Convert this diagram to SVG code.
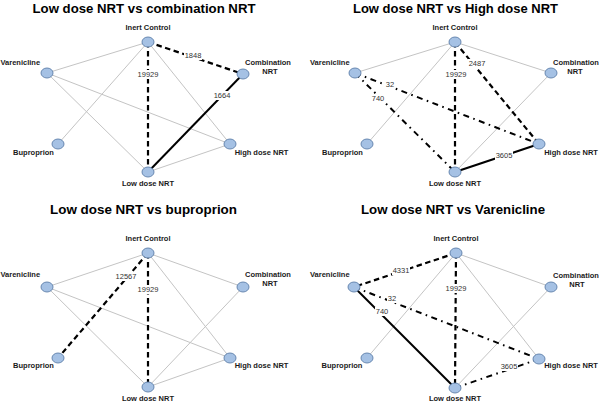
<svg xmlns="http://www.w3.org/2000/svg" width="600" height="404" viewBox="0 0 600 404">
<style>
.title{font-family:"Liberation Sans",Arial,sans-serif;font-weight:bold;font-size:13.5px;fill:#000;text-anchor:middle}
.nl{font-family:"Liberation Sans",Arial,sans-serif;font-weight:bold;font-size:7.5px;fill:#1a1a1a}
.c{text-anchor:middle}
.el{font-family:"Liberation Sans",Arial,sans-serif;font-size:7.5px;fill:#333;text-anchor:middle}
.bg{fill:#fff}
.gray{stroke:#c4c4c4;stroke-width:1;fill:none}
.dash{stroke:#000;stroke-width:2.2;stroke-dasharray:5.5 3.5;fill:none}
.dd{stroke:#000;stroke-width:2;stroke-dasharray:6 4.5 1.6 4.5;fill:none}
.solid{stroke:#000;stroke-width:2;fill:none}
.node{fill:#a5c1e4;stroke:#5d7fa9;stroke-width:0.9}
</style>
<rect width="600" height="404" fill="#fff"/>
<g id="titles">
<text class="title" x="144" y="13" textLength="223" lengthAdjust="spacingAndGlyphs">Low dose NRT vs combination NRT</text>
<text class="title" x="455.5" y="13" textLength="205" lengthAdjust="spacingAndGlyphs">Low dose NRT vs High dose NRT</text>
<text class="title" x="143.5" y="214" textLength="187" lengthAdjust="spacingAndGlyphs">Low dose NRT vs buproprion</text>
<text class="title" x="453" y="214" textLength="184" lengthAdjust="spacingAndGlyphs">Low dose NRT vs Varenicline</text>
</g>
<g id="connectors">
<!-- panel 1 -->
<line class="gray" x1="148" y1="42" x2="47" y2="73"/>
<line class="gray" x1="148" y1="42" x2="58" y2="144"/>
<line class="gray" x1="148" y1="42" x2="230" y2="144"/>
<line class="gray" x1="47" y1="73" x2="230" y2="144"/>
<line class="gray" x1="47" y1="73" x2="148" y2="172"/>
<line class="gray" x1="230" y1="144" x2="148" y2="172"/>
<line class="dash" x1="148" y1="42" x2="243" y2="74"/>
<line class="dash" x1="148" y1="42" x2="148" y2="172"/>
<line class="solid" x1="243" y1="74" x2="148" y2="172"/>
<!-- panel 2 -->
<line class="gray" x1="455" y1="42" x2="355" y2="73"/>
<line class="gray" x1="455" y1="42" x2="551" y2="73"/>
<line class="gray" x1="455" y1="42" x2="367" y2="144"/>
<line class="gray" x1="551" y1="73" x2="455" y2="172"/>
<line class="dash" x1="455" y1="42" x2="455" y2="172"/>
<line class="dash" x1="455" y1="42" x2="539" y2="144"/>
<line class="dd" x1="355" y1="73" x2="539" y2="144"/>
<line class="dd" x1="355" y1="73" x2="455" y2="172"/>
<line class="solid" x1="455" y1="172" x2="539" y2="144"/>
<!-- panel 3 -->
<line class="gray" x1="148" y1="253" x2="47" y2="287"/>
<line class="gray" x1="148" y1="253" x2="243" y2="287"/>
<line class="gray" x1="148" y1="253" x2="230" y2="358"/>
<line class="gray" x1="47" y1="287" x2="230" y2="358"/>
<line class="gray" x1="47" y1="287" x2="148" y2="387"/>
<line class="gray" x1="243" y1="287" x2="148" y2="387"/>
<line class="gray" x1="230" y1="358" x2="148" y2="387"/>
<line class="dash" x1="148" y1="253" x2="58" y2="358"/>
<line class="dash" x1="148" y1="253" x2="148" y2="387"/>
<!-- panel 4 -->
<line class="gray" x1="456" y1="253" x2="367" y2="358"/>
<line class="gray" x1="456" y1="253" x2="551" y2="287"/>
<line class="gray" x1="456" y1="253" x2="539" y2="359"/>
<line class="gray" x1="551" y1="287" x2="455" y2="388"/>
<line class="dash" x1="456" y1="253" x2="354" y2="287"/>
<line class="dash" x1="456" y1="253" x2="455" y2="388"/>
<line class="dd" x1="354" y1="287" x2="539" y2="359"/>
<line class="dd" x1="455" y1="388" x2="539" y2="359"/>
<line class="solid" x1="354" y1="287" x2="455" y2="388"/>
</g>
<g id="edge-labels">
<rect class="bg" x="184" y="51" width="18" height="9"/><text class="el" x="193" y="58">1848</text>
<rect class="bg" x="137" y="70" width="22" height="9"/><text class="el" x="148" y="77">19929</text>
<rect class="bg" x="213" y="91" width="18" height="9"/><text class="el" x="222" y="98">1664</text>

<rect class="bg" x="468" y="59" width="18" height="9"/><text class="el" x="477" y="66">2487</text>
<rect class="bg" x="445" y="70" width="22" height="9"/><text class="el" x="456" y="77">19929</text>
<rect class="bg" x="385" y="80" width="10" height="9"/><text class="el" x="390" y="87">32</text>
<rect class="bg" x="371" y="94" width="14" height="9"/><text class="el" x="378" y="101">740</text>
<rect class="bg" x="495" y="151" width="18" height="9"/><text class="el" x="504" y="158">3605</text>

<rect class="bg" x="115" y="272" width="22" height="9"/><text class="el" x="126" y="279">12567</text>
<rect class="bg" x="137" y="285" width="22" height="9"/><text class="el" x="148" y="292">19929</text>

<rect class="bg" x="392" y="266" width="18" height="9"/><text class="el" x="401" y="273">4331</text>
<rect class="bg" x="445" y="284" width="22" height="9"/><text class="el" x="456" y="291">19929</text>
<rect class="bg" x="387" y="294" width="10" height="9"/><text class="el" x="392" y="301">32</text>
<rect class="bg" x="375" y="307" width="14" height="9"/><text class="el" x="382" y="314">740</text>
<rect class="bg" x="500" y="362" width="18" height="9"/><text class="el" x="509" y="369">3605</text>
</g>
<!-- panel 1 nodes -->
<g id="p1-inert-control"><ellipse class="node" cx="148" cy="42" rx="6" ry="5"/><text class="nl c" x="148" y="30">Inert Control</text></g>
<g id="p1-varenicline"><ellipse class="node" cx="47" cy="73" rx="6" ry="5"/><text class="nl" x="0.5" y="65">Varenicline</text></g>
<g id="p1-combination-nrt"><ellipse class="node" cx="243" cy="74" rx="6" ry="5"/><text class="nl c" x="268" y="65">Combination</text><text class="nl c" x="270" y="74">NRT</text></g>
<g id="p1-buproprion"><ellipse class="node" cx="58" cy="144" rx="6" ry="5"/><text class="nl c" x="33.5" y="155">Buproprion</text></g>
<g id="p1-high-dose-nrt"><ellipse class="node" cx="230" cy="144" rx="6" ry="5"/><text class="nl c" x="261.5" y="155">High dose NRT</text></g>
<g id="p1-low-dose-nrt"><ellipse class="node" cx="148" cy="172" rx="6" ry="5"/><text class="nl c" x="148" y="186">Low dose NRT</text></g>
<!-- panel 2 nodes -->
<g id="p2-inert-control"><ellipse class="node" cx="455" cy="42" rx="6" ry="5"/><text class="nl c" x="455" y="30">Inert Control</text></g>
<g id="p2-varenicline"><ellipse class="node" cx="355" cy="73" rx="6" ry="5"/><text class="nl" x="310" y="65">Varenicline</text></g>
<g id="p2-combination-nrt"><ellipse class="node" cx="551" cy="73" rx="6" ry="5"/><text class="nl c" x="576" y="65">Combination</text><text class="nl c" x="575" y="74">NRT</text></g>
<g id="p2-buproprion"><ellipse class="node" cx="367" cy="144" rx="6" ry="5"/><text class="nl c" x="342.5" y="155">Buproprion</text></g>
<g id="p2-high-dose-nrt"><ellipse class="node" cx="539" cy="144" rx="6" ry="5"/><text class="nl c" x="571" y="155">High dose NRT</text></g>
<g id="p2-low-dose-nrt"><ellipse class="node" cx="455" cy="172" rx="6" ry="5"/><text class="nl c" x="455" y="186">Low dose NRT</text></g>
<!-- panel 3 nodes -->
<g id="p3-inert-control"><ellipse class="node" cx="148" cy="253" rx="6" ry="5"/><text class="nl c" x="148" y="241">Inert Control</text></g>
<g id="p3-varenicline"><ellipse class="node" cx="47" cy="287" rx="6" ry="5"/><text class="nl" x="0.5" y="277">Varenicline</text></g>
<g id="p3-combination-nrt"><ellipse class="node" cx="243" cy="287" rx="6" ry="5"/><text class="nl c" x="268" y="277">Combination</text><text class="nl c" x="270" y="286">NRT</text></g>
<g id="p3-buproprion"><ellipse class="node" cx="58" cy="358" rx="6" ry="5"/><text class="nl c" x="33.5" y="368">Buproprion</text></g>
<g id="p3-high-dose-nrt"><ellipse class="node" cx="230" cy="358" rx="6" ry="5"/><text class="nl c" x="261.5" y="368">High dose NRT</text></g>
<g id="p3-low-dose-nrt"><ellipse class="node" cx="148" cy="387" rx="6" ry="5"/><text class="nl c" x="148" y="401">Low dose NRT</text></g>
<!-- panel 4 nodes -->
<g id="p4-inert-control"><ellipse class="node" cx="456" cy="253" rx="6" ry="5"/><text class="nl c" x="456" y="241">Inert Control</text></g>
<g id="p4-varenicline"><ellipse class="node" cx="354" cy="287" rx="6" ry="5"/><text class="nl" x="310" y="277">Varenicline</text></g>
<g id="p4-combination-nrt"><ellipse class="node" cx="551" cy="287" rx="6" ry="5"/><text class="nl c" x="576" y="278">Combination</text><text class="nl c" x="577" y="287">NRT</text></g>
<g id="p4-buproprion"><ellipse class="node" cx="367" cy="358" rx="6" ry="5"/><text class="nl c" x="342" y="368">Buproprion</text></g>
<g id="p4-high-dose-nrt"><ellipse class="node" cx="539" cy="359" rx="6" ry="5"/><text class="nl c" x="571" y="368">High dose NRT</text></g>
<g id="p4-low-dose-nrt"><ellipse class="node" cx="455" cy="388" rx="6" ry="5"/><text class="nl c" x="455" y="401">Low dose NRT</text></g>
</svg>
